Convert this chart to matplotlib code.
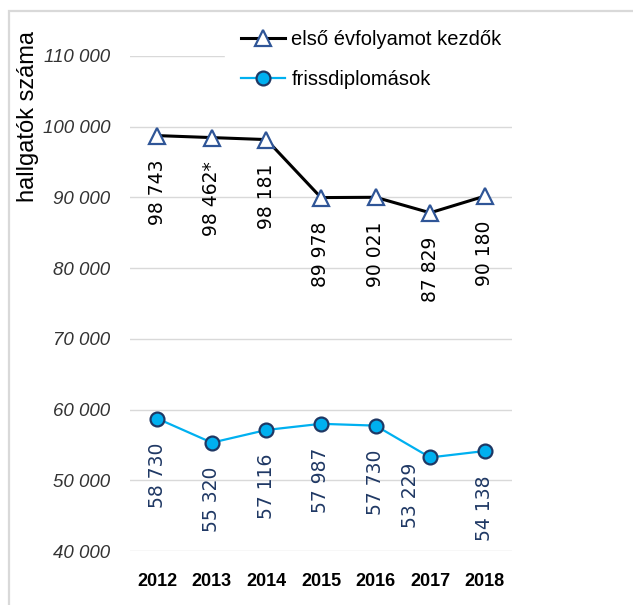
import matplotlib.pyplot as plt
import matplotlib.patches as patches

years = ['2012', '2013', '2014', '2015', '2016', '2017', '2018']
first_year = [98743, 98462, 98181, 89978, 90021, 87829, 90180]
first_year_note = ['', '*', '', '', '', '', '']
graduates = [58730, 55320, 57116, 57987, 57730, 53229, 54138]
yticks = [40000, 50000, 60000, 70000, 80000, 90000, 100000, 110000]

black = '#000000'
navy = '#2F5597'
cyan = '#00B0F0'
dark_navy = '#1F3864'
grid_color = '#D9D9D9'

lib = ['Liberation Sans', 'DejaVu Sans']


def fmt(v):
    return f"{v:,}".replace(',', ' ')


fig = plt.figure(figsize=(6.33, 6.05), dpi=100)
ax = fig.add_axes([130 / 633, 54 / 605, 382 / 633, 495 / 605])

x = list(range(len(years)))
ax.plot(x, first_year, color=black, linewidth=2.2, marker='^', markersize=12,
        markerfacecolor='white', markeredgecolor=navy, markeredgewidth=1.6,
        label='első évfolyamot kezdők', zorder=3)
ax.plot(x, graduates, color=cyan, linewidth=1.6, marker='o', markersize=10,
        markerfacecolor=cyan, markeredgecolor=dark_navy, markeredgewidth=1.6,
        label='frissdiplomások', zorder=3)

# data labels, rotated, below the points
for i, (v, note) in enumerate(zip(first_year, first_year_note)):
    ax.annotate(fmt(v) + note, (i, v), xytext=(0, -24), textcoords='offset pixels',
                rotation=90, ha='center', va='top', fontsize=13.5,
                family='DejaVu Sans', color=black)
for i, v in enumerate(graduates):
    dx, dy = (0, -24)
    if years[i] == '2017':
        dx, dy = (-20, -5)
    ax.annotate(fmt(v), (i, v), xytext=(dx, dy), textcoords='offset pixels',
                rotation=90, ha='center', va='top', fontsize=13.5,
                family='DejaVu Sans', color=dark_navy)

ax.set_xlim(-0.5, len(years) - 0.5)
ax.set_ylim(40000, 110000)
ax.set_xticks(x)
ax.set_xticklabels(years, family=lib, fontweight='bold', fontsize=13, color=black)
ax.set_yticks(yticks)
ax.set_yticklabels([fmt(t) for t in yticks], family=lib, style='italic',
                   fontsize=13.5, color='#333333')
ax.tick_params(axis='both', length=0)
ax.tick_params(axis='y', pad=14)
ax.tick_params(axis='x', pad=16)
ax.grid(axis='y', color=grid_color, linewidth=1)
ax.set_axisbelow(True)
for s in ax.spines.values():
    s.set_visible(False)

fig.text(28 / 633, 1 - 116 / 605, 'hallgatók száma', rotation=90, ha='center',
         va='center', fontsize=17, family=lib, color=black)

leg = ax.legend(loc='upper left', bbox_to_anchor=(225 / 633, 1 - 14 / 605),
                bbox_transform=fig.transFigure, frameon=True, fancybox=False,
                prop={'family': lib, 'size': 14.5},
                handlelength=2.2, handletextpad=0.3, labelspacing=1.05, borderpad=0.8,
                borderaxespad=0)
leg.get_frame().set_facecolor('white')
leg.get_frame().set_edgecolor('white')
leg.get_frame().set_alpha(1)

# outer chart border (left and top visible)
border = patches.Rectangle((9 / 633, -0.1), 1.2, 1.1 - 11 / 605, transform=fig.transFigure,
                           fill=False, edgecolor=grid_color, linewidth=1.6, clip_on=False)
fig.patches.append(border)

fig.savefig('out.png', dpi=100)
